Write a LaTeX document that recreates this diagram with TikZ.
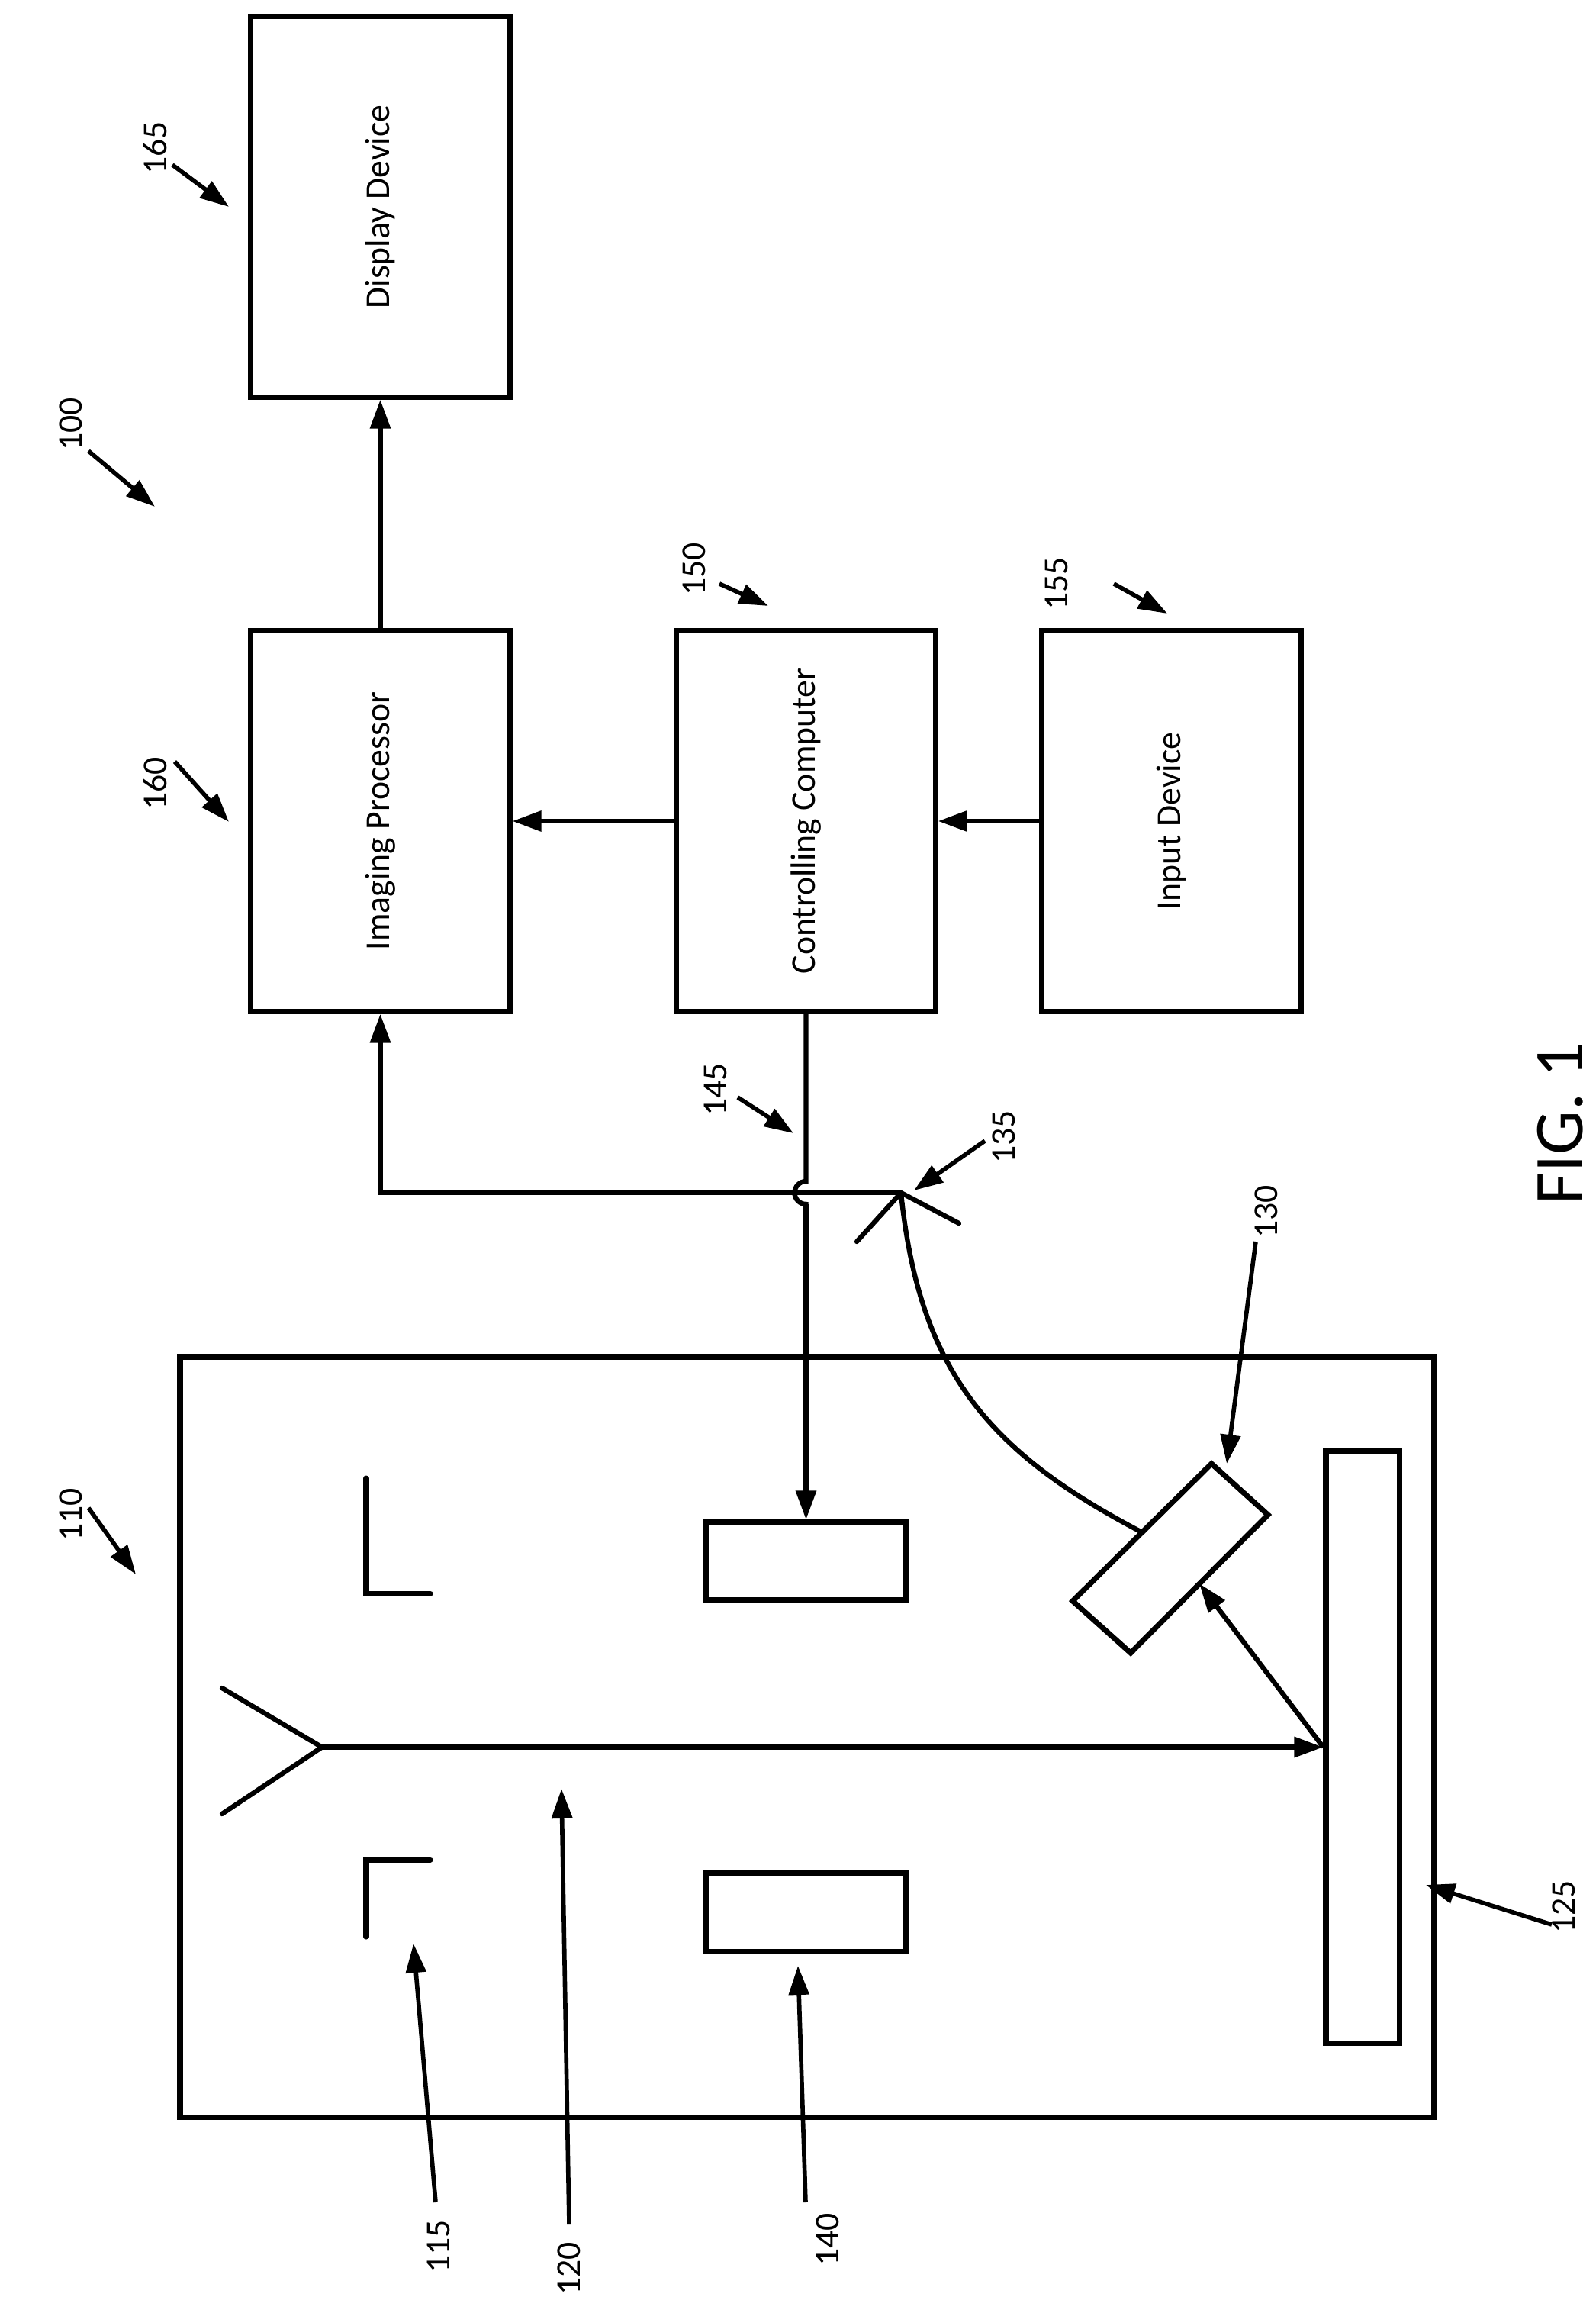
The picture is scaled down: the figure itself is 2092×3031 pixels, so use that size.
\documentclass[tikz,border=0pt]{standalone}
\usepackage{fontspec}
\setmainfont{Carlito}
\usetikzlibrary{arrows.meta}
\tikzset{
  box/.style={draw, line width=2pt, minimum width=3.39cm, minimum height=4.98cm, inner sep=0pt, font=\fontsize{13}{15}\selectfont},
  part/.style={draw, line width=2pt, inner sep=0pt},
  wire/.style={line width=1.8pt},
  feed/.style={wire, -{Triangle[length=0.38cm,width=0.26cm]}},
  lead/.style={line width=1.6pt, -{Triangle[length=0.38cm,width=0.26cm]}},
  num/.style={rotate=90, font=\fontsize{13}{15}\selectfont}
}
\begin{document}
\begin{tikzpicture}[x=0.01cm, y=-0.01cm]
  \useasboundingbox (0,0) rectangle (2092,3031);
  % block diagram
  \node[box] (disp) at (498.5,271) {\rotatebox{90}{Display Device}};
  \node[box] (proc) at (498.5,1076) {\rotatebox{90}{Imaging Processor}};
  \node[box] (ctrl) at (1056.5,1076) {\rotatebox{90}{Controlling Computer}};
  \node[box] (inp) at (1535.5,1076) {\rotatebox{90}{Input Device}};
  \draw[feed] (proc) -- (disp);
  \draw[feed] (ctrl) -- (proc);
  \draw[feed] (inp) -- (ctrl);
  % instrument
  \draw[line width=2pt] (236,1778) rectangle (1879,2774);
  \node[part, minimum width=2.61cm, minimum height=1.01cm] (lens1) at (1056.5,2045.5) {};
  \node[part, minimum width=2.61cm, minimum height=1.03cm] (lens2) at (1056.5,2505.5) {};
  \node[part, minimum width=0.96cm, minimum height=7.75cm] (plate) at (1786,2289.5) {};
  \draw[part] (1406,2098) -- (1482,2166) -- (1662,1985) -- (1588,1918) -- cycle;
  \coordinate (det) at (1572,2075);
  \coordinate (detT) at (1497,2008);
  \coordinate (src) at (422,2289.5);
  \coordinate (mir) at (1181,1563);
  % source and apertures
  \draw[wire, line cap=round] (291,2212) -- (src) -- (291,2377);
  \draw[line width=2pt, line cap=round] (480,1937) -- (480,2088) -- (564,2088);
  \draw[line width=2pt, line cap=round] (480,2538) -- (480,2437) -- (564,2437);
  \draw[feed] (src) -- (plate.west);
  \draw[feed] (plate.west) -- (det);
  % mirror and signal paths
  \draw[wire, line cap=round] (1123,1627) -- (mir) -- (1257,1603);
  \draw[wire] (detT) .. controls (1300,1905) and (1205,1800) .. (mir);
  \draw[feed] (mir) -- (498.5,1563) -- (proc.south);
  \draw[wire] (ctrl.south) -- (1056.5,1548) arc[start angle=90, end angle=270, radius=0.15cm]
    -- (1056.5,1580);
  \draw[feed] (1056.5,1578) -- (lens1.north);
  % reference numerals
  \node[num] (n100) at (93,556) {100};
  \node[num] (n165) at (203,194) {165};
  \node[num] (n160) at (203,1027) {160};
  \node[num] (n150) at (910,746) {150};
  \node[num] (n155) at (1385,765) {155};
  \node[num] (n145) at (938,1428) {145};
  \node[num] (n135) at (1316,1490) {135};
  \node[num] (n130) at (1660,1588) {130};
  \node[num] (n125) at (2050,2499) {125};
  \node[num] (n110) at (93,1985) {110};
  \node[num] (n115) at (575,2944) {115};
  \node[num] (n120) at (746,2973) {120};
  \node[num] (n140) at (1085,2935) {140};
  \draw[lead] (116,591) -- (203,664);
  \draw[lead] (226,216) -- (300,271);
  \draw[lead] (229,998) -- (300,1077);
  \draw[lead] (943,765) -- (1007,794);
  \draw[lead] (1460,765) -- (1530,804);
  \draw[lead] (967,1438) -- (1040,1485);
  \draw[lead] (1291,1495) -- (1198,1560);
  \draw[lead] (1646,1627) -- (1608,1918);
  \draw[lead] (2034,2522) -- (1869,2470);
  \draw[lead] (116,1976) -- (178,2063);
  \draw[lead] (571,2886) -- (542,2547);
  \draw[lead] (746,2915) -- (736,2344);
  \draw[lead] (1056,2886) -- (1046,2576);
  \node[rotate=90, font=\fontsize{26}{30}\selectfont] (fig) at (2045,1472) {FIG. 1};
\end{tikzpicture}
\end{document}
